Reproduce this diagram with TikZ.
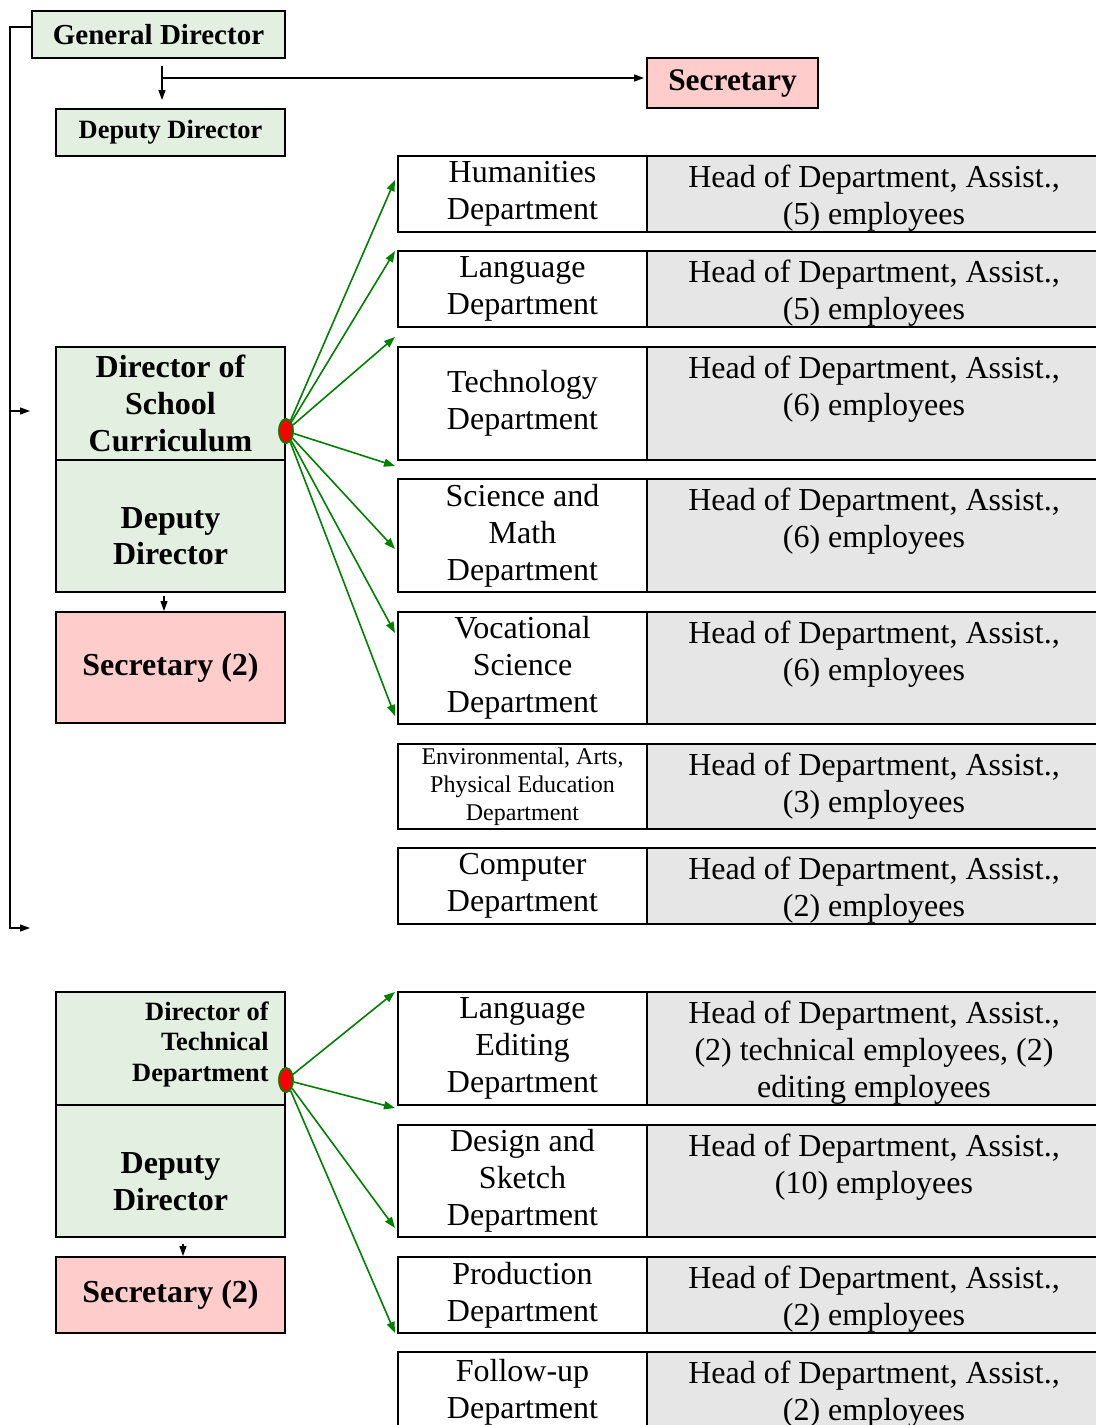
\documentclass[tikz,border=0pt]{standalone}
\usepackage{fontspec}
\setmainfont{Liberation Serif}
\usetikzlibrary{positioning,calc,shapes.geometric,arrows.meta}

\definecolor{boxgreen}{RGB}{227,240,225}
\definecolor{boxpink}{RGB}{255,204,204}
\definecolor{boxgray}{RGB}{230,230,230}
\definecolor{arrgreen}{RGB}{0,128,0}

\begin{document}
\begin{tikzpicture}[x=0.5pt,y=-0.5pt,
  gbox/.style={draw,line width=1pt,fill=boxgreen,inner sep=0pt,align=center,minimum width=114.5pt},
  pbox/.style={draw,line width=1pt,fill=boxpink,inner sep=0pt,align=center},
  dept/.style={draw,line width=1pt,fill=white,minimum width=124.5pt,inner sep=0pt,align=center,font=\fontsize{16}{18.5}\selectfont},
  staff/.style={draw,line width=1pt,fill=boxgray,minimum width=226.5pt,inner sep=0pt},
  stafftxt/.style={anchor=north,inner sep=0pt,align=center,font=\fontsize{16}{18.5}\selectfont},
  bigbf/.style={font=\fontsize{16}{18.3}\selectfont\bfseries},
  link/.style={arrgreen,line width=0.8pt,-{Triangle[length=5.5pt,width=4pt]}},
  flow/.style={line width=0.6pt,-{Triangle[length=5pt,width=3.5pt]}},
  hub/.style={ellipse,draw=arrgreen,fill=red,line width=0.8pt,minimum width=7pt,minimum height=12pt,inner sep=0pt}]
\useasboundingbox (0,0) rectangle (1096,1425);

% top of the chart
\node[gbox,minimum width=126.5pt,minimum height=23.5pt,font=\fontsize{14.5}{17}\selectfont\bfseries] (gd) at (158.5,34.5) {General Director};
\node[pbox,minimum width=85.5pt,minimum height=25pt,font=\fontsize{15.7}{18}\selectfont\bfseries] (sec) at (732.5,83) {Secretary};
\node[gbox,minimum height=23.5pt,font=\fontsize{13.2}{15}\selectfont\bfseries] (dd0) at (170.5,132.5) {Deputy Director};
\coordinate (gdb) at (162,66);
\coordinate (gdj) at (162,78);
\draw[flow,shorten >=4pt] (gdb) -- (gdb |- dd0.north);
\draw[flow,shorten >=1pt] (gdj) -- (gdj -| sec.west);

% left bracket
\coordinate (bend) at (10,928);
\coordinate (brk2) at (30,928);
\coordinate (brj) at (10,411);
\coordinate (brk1) at (30,411);
\draw[flow] ([yshift=3.75pt]gd.west) -| (bend) -- (brk2);
\draw[flow] (brj) -- (brk1);

% school curriculum
\node[gbox,minimum height=56.5pt,bigbf] (dsc) at (170.5,403.5) {Director of\\School\\Curriculum};
\node[gbox,minimum height=66pt] (dd1) at (170.5,526) {};
\node[align=center,inner sep=0pt,bigbf] (dd1t) at (170.5,536) {Deputy\\Director};
\node[pbox,minimum width=114.5pt,minimum height=55.5pt,bigbf] (sec1) at (170.5,667.5) {Secretary (2)};
\draw[flow] ([xshift=-3.25pt,yshift=-1.5pt]dd1.south) -- ([xshift=-3.25pt]sec1.north);

\node[staff,minimum height=38pt] (s1) at (873.5,194) {};
\node[dept,minimum height=38pt] (d1) at (522.5,194) {Humanities\\Department};
\node[stafftxt] (s1t) at (874,165) {Head of Department, Assist.,\\(5) employees};
\node[staff,minimum height=38pt] (s2) at (873.5,289) {};
\node[dept,minimum height=38pt] (d2) at (522.5,289) {Language\\Department};
\node[stafftxt] (s2t) at (874,260) {Head of Department, Assist.,\\(5) employees};
\node[staff,minimum height=56.5pt] (s3) at (873.5,403.5) {};
\node[dept,minimum height=56.5pt] (d3) at (522.5,403.5) {Technology\\Department};
\node[stafftxt] (s3t) at (874,356) {Head of Department, Assist.,\\(6) employees};
\node[staff,minimum height=56.5pt] (s4) at (873.5,535.5) {};
\node[dept,minimum height=56.5pt] (d4) at (522.5,535.5) {Science and\\Math\\Department};
\node[stafftxt] (s4t) at (874,488) {Head of Department, Assist.,\\(6) employees};
\node[staff,minimum height=56pt] (s5) at (873.5,668) {};
\node[dept,minimum height=56pt] (d5) at (522.5,668) {Vocational\\Science\\Department};
\node[stafftxt] (s5t) at (874,621) {Head of Department, Assist.,\\(6) employees};
\node[staff,minimum height=42.5pt] (s6) at (873.5,786.5) {};
\node[dept,minimum height=42.5pt,font=\fontsize{12}{14}\selectfont] (d6) at (522.5,786.5) {Environmental, Arts,\\Physical Education\\Department};
\node[stafftxt] (s6t) at (874,753) {Head of Department, Assist.,\\(3) employees};
\node[staff,minimum height=38pt] (s7) at (873.5,886) {};
\node[dept,minimum height=38pt] (d7) at (522.5,886) {Computer\\Department};
\node[stafftxt] (s7t) at (874,857) {Head of Department, Assist.,\\(2) employees};

\coordinate (t1) at (395,180);
\coordinate (t2) at (395,251);
\coordinate (t3) at (395,337);
\coordinate (t4) at (395,466);
\coordinate (t5) at (395,549);
\coordinate (t6) at (395,633);
\coordinate (t7) at (395,716);
\node[hub] (hub1) at (286,431) {};
\draw[link] (hub1) -- (t1);
\draw[link] (hub1) -- (t2);
\draw[link] (hub1) -- (t3);
\draw[link] (hub1) -- (t4);
\draw[link] (hub1) -- (t5);
\draw[link] (hub1) -- (t6);
\draw[link] (hub1) -- (t7);
\node[hub] at (hub1) {};

% technical department
\node[gbox,minimum height=56.5pt] (dtd) at (170.5,1048.5) {};
\node[anchor=north east,align=right,inner sep=0pt,font=\fontsize{13.2}{15.25}\selectfont\bfseries] (dtdt) at (269,1001) {Director of\\Technical\\Department};
\node[gbox,minimum height=66pt] (dd2) at (170.5,1171) {};
\node[align=center,inner sep=0pt,bigbf] (dd2t) at (170.5,1181.5) {Deputy\\Director};
\node[pbox,minimum width=114.5pt,minimum height=38pt,bigbf] (sec2) at (170.5,1295) {Secretary (2)};
\draw[flow] ([xshift=6.25pt,yshift=-3pt]dd2.south) -- ([xshift=6.25pt]sec2.north);

\node[staff,minimum height=56.5pt] (s8) at (873.5,1048.5) {};
\node[dept,minimum height=56.5pt] (d8) at (522.5,1048.5) {Language\\Editing\\Department};
\node[stafftxt] (s8t) at (874,1001) {Head of Department, Assist.,\\(2) technical employees, (2)\\editing employees};
\node[staff,minimum height=56pt] (s9) at (873.5,1181) {};
\node[dept,minimum height=56pt] (d9) at (522.5,1181) {Design and\\Sketch\\Department};
\node[stafftxt] (s9t) at (874,1134) {Head of Department, Assist.,\\(10) employees};
\node[staff,minimum height=38pt] (s10) at (873.5,1295) {};
\node[dept,minimum height=38pt] (d10) at (522.5,1295) {Production\\Department};
\node[stafftxt] (s10t) at (874,1266) {Head of Department, Assist.,\\(2) employees};
\node[staff,minimum height=40pt] (s11) at (873.5,1392) {};
\node[dept,minimum height=40pt] (d11) at (522.5,1392) {Follow-up\\Department};
\node[stafftxt] (s11t) at (874,1361) {Head of Department, Assist.,\\(2) employees};

\coordinate (t8) at (395,992);
\coordinate (t9) at (395,1108);
\coordinate (t10) at (395,1228);
\coordinate (t11) at (395,1333);
\node[hub] (hub2) at (286,1080) {};
\draw[link] (hub2) -- (t8);
\draw[link] (hub2) -- (t9);
\draw[link] (hub2) -- (t10);
\draw[link] (hub2) -- (t11);
\node[hub] at (hub2) {};
\end{tikzpicture}
\end{document}
